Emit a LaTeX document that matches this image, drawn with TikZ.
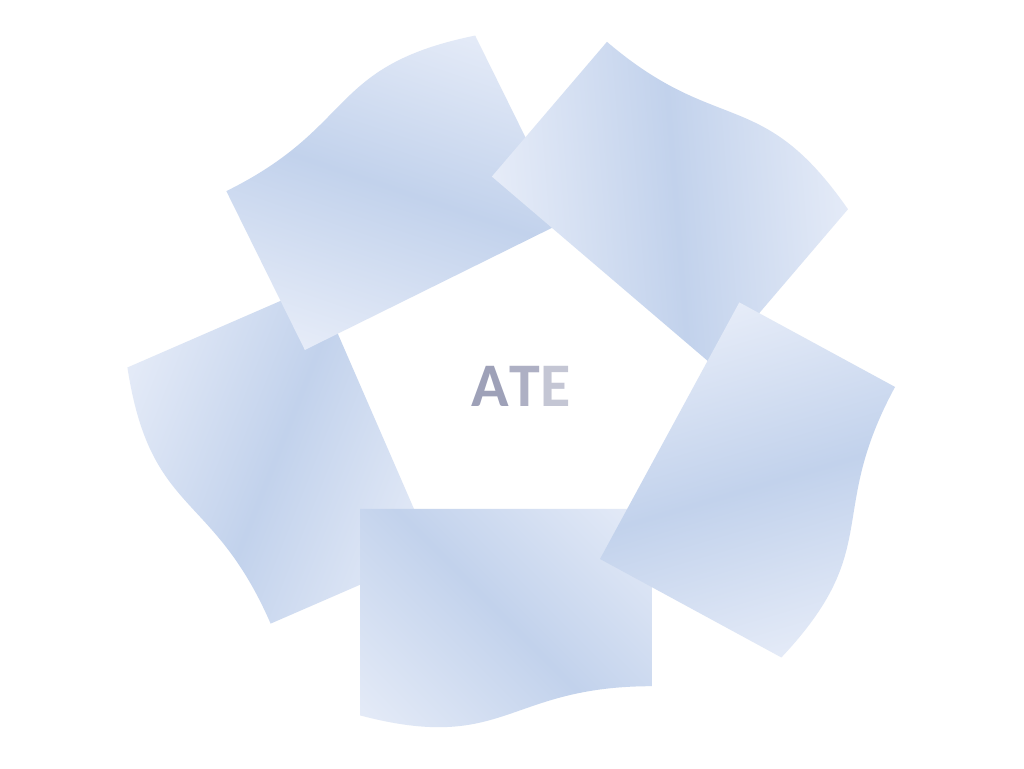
\documentclass[tikz,border=0pt]{standalone}
\usepackage{fontspec}
\newfontfamily\calfont{Carlito}
\definecolor{docL}{HTML}{E6ECF8}
\definecolor{docM}{HTML}{C2D2EC}
\definecolor{ateA}{HTML}{9EA1B8}
\definecolor{ateT}{HTML}{AEB0C4}
\definecolor{ateE}{HTML}{C4C6D4}
\pgfdeclareverticalshading{docshade}{100bp}{color(0bp)=(docL); color(14.6bp)=(docL); color(50bp)=(docM); color(85.4bp)=(docL); color(100bp)=(docL)}
\tikzset{docfill/.style={shading=docshade, shading angle=-45},
  atetext/.style={inner sep=0pt, font=\calfont\bfseries\fontsize{62}{62}\selectfont}}
\newcommand{\docat}[2]{%
  \begin{scope}[transform canvas={shift={(#1)},rotate=#2}]
    \clip (0,0) -- (292,0) -- (292,-177.2) .. controls (146,-177.2) and (146,-244.8) .. (0,-206.4) -- cycle;
    \shade[docfill] (0,0) rectangle (292,-221);
  \end{scope}}
\begin{document}
\begin{tikzpicture}[x=1pt,y=1pt]
\useasboundingbox (0,0) rectangle (1024,768);
\fill[white] (0,0) rectangle (1024,768);
% left
\docat{316.7,482.8}{-66.5}
% top-left
\docat{566.6,547.4}{-153.7}
% top-right
\docat{713.9,401.8}{139.5}
% bottom
\docat{360,259}{0}
% right
\docat{600,209}{61.5}
\node[atetext] (ate) at (521,382) {\textcolor{ateA}{A}\textcolor{ateT}{T}\textcolor{ateE}{E}};
\end{tikzpicture}
\end{document}
